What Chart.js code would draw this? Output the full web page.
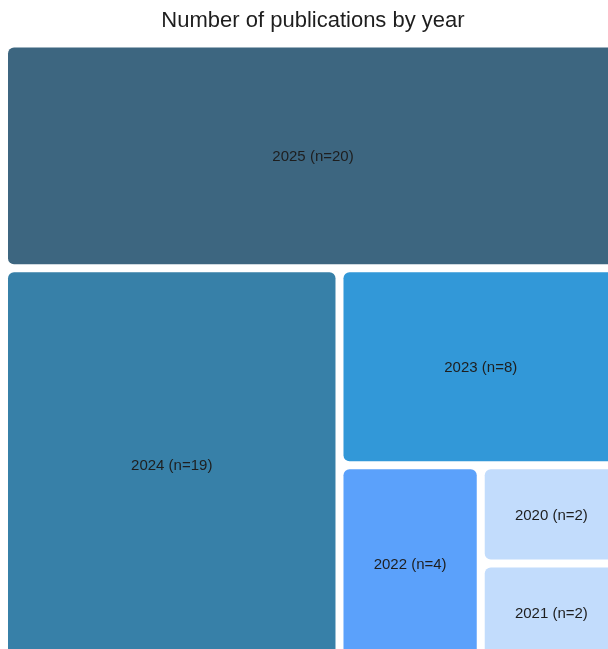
<!DOCTYPE html>
<html>
<head>
<meta charset="utf-8">
<title>Number of publications by year</title>
<script src="https://cdn.jsdelivr.net/npm/chart.js@4.4.1/dist/chart.umd.min.js"></script>
<style>
	html, body { margin: 0; padding: 0; overflow: hidden; background: #fff; }
	#wrap { position: relative; width: 626px; height: 666px; }
</style>
</head>
<body>
<div id="wrap"><canvas id="treeChart"></canvas></div>
<script>
// data, largest first (same order the treemap lays them out)
const years = ['2025', '2024', '2023', '2022', '2020', '2021'];
const counts = [20, 19, 8, 4, 2, 2];
const colors = ['#3d6680', '#3780a8', '#3298d8', '#5ba1fb', '#c2dcfc', '#c2dcfc'];

// each value takes a strip across the shorter side of what is left
function stripLayout(values, pxW, pxH) {
	const rects = [];
	let x = 0, y = 0, w = 1, h = 1;
	let rest = values.reduce((a, b) => a + b, 0);
	values.forEach((v) => {
		const share = v / rest;
		if (h * pxH >= w * pxW) {
			rects.push({ x0: x, y0: y, x1: x + w, y1: y + h * share });
			y += h * share;
			h -= h * share;
		} else {
			rects.push({ x0: x, y0: y, x1: x + w * share, y1: y + h });
			x += w * share;
			w -= w * share;
		}
		rest -= v;
	});
	return rects;
}

const treemapPlugin = {
	id: 'treemapCells',
	afterDatasetsDraw(chart) {
		const ctx = chart.ctx;
		const xs = chart.scales.x;
		const ys = chart.scales.y;
		const pxW = Math.abs(xs.getPixelForValue(1) - xs.getPixelForValue(0));
		const pxH = Math.abs(ys.getPixelForValue(1) - ys.getPixelForValue(0));
		const cells = stripLayout(counts, pxW, pxH);
		const gap = 4;

		ctx.save();
		cells.forEach((c, i) => {
			const left = xs.getPixelForValue(c.x0) + gap;
			const right = xs.getPixelForValue(c.x1) - gap;
			const top = ys.getPixelForValue(c.y0) + gap;
			const bottom = ys.getPixelForValue(c.y1) - gap;

			ctx.beginPath();
			ctx.roundRect(left, top, right - left, bottom - top, 6);
			ctx.fillStyle = colors[i];
			ctx.fill();

			ctx.fillStyle = '#1e1e1e';
			ctx.font = '15px Arial, "Liberation Sans", sans-serif';
			ctx.textAlign = 'center';
			ctx.textBaseline = 'middle';
			ctx.fillText(years[i] + ' (n=' + counts[i] + ')', (left + right) / 2, (top + bottom) / 2 + 1);
		});
		ctx.restore();
	}
};

document.addEventListener('DOMContentLoaded', () => {
	Chart.defaults.font.family = 'Arial, "Liberation Sans", sans-serif';

	new Chart(document.getElementById('treeChart'), {
		type: 'scatter',
		data: {
			datasets: [{ label: 'Publications', data: [] }]
		},
		options: {
			responsive: true,
			maintainAspectRatio: false,
			animation: false,
			layout: {
				padding: { left: 4, right: 4, top: 0, bottom: 4 }
			},
			plugins: {
				legend: { display: false },
				tooltip: { enabled: false },
				title: {
					display: true,
					text: 'Number of publications by year',
					color: '#1e1e1e',
					font: { size: 22, weight: 'normal' },
					padding: { top: 8, bottom: 9 }
				}
			},
			scales: {
				x: { type: 'linear', display: false, min: 0, max: 1 },
				y: { type: 'linear', display: false, min: 0, max: 1, reverse: true }
			}
		},
		plugins: [treemapPlugin]
	});
});
</script>
</body>
</html>
